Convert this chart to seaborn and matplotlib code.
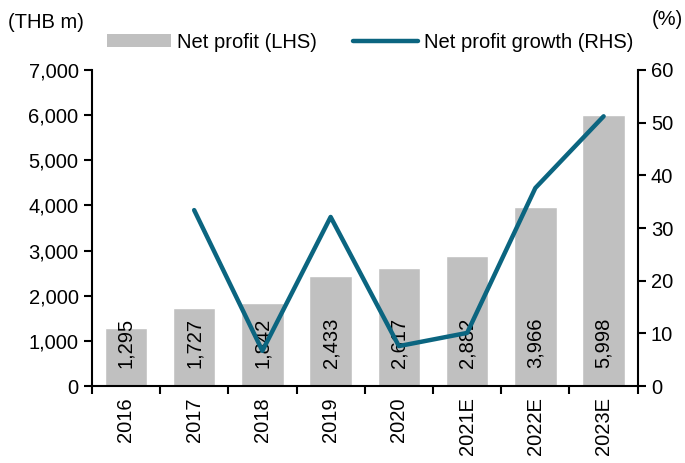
import numpy as np
import pandas as pd
import seaborn as sns
import matplotlib.pyplot as plt
from matplotlib.patches import Patch
from matplotlib.lines import Line2D
from matplotlib.ticker import FuncFormatter, FixedLocator

years = ['2016', '2017', '2018', '2019', '2020', '2021E', '2022E', '2023E']
net_profit = [1295, 1727, 1842, 2433, 2617, 2882, 3966, 5998]
growth = [np.nan, 33.4, 6.7, 32.1, 7.6, 10.1, 37.6, 51.2]

bar_color = '#C0C0C0'
line_color = '#0B6580'
fs = 14.5

sns.set_style('white')
plt.rcParams['font.family'] = ['Liberation Sans', 'DejaVu Sans']
plt.rcParams['font.size'] = fs
plt.rcParams['text.color'] = 'black'
plt.rcParams['xtick.color'] = 'black'
plt.rcParams['ytick.color'] = 'black'

df = pd.DataFrame({'year': years, 'profit': net_profit, 'growth': growth})
df['pos'] = np.arange(len(df))

fig = plt.figure(figsize=(6.85, 4.63), dpi=100)
ax = fig.add_axes([0.134, 0.166, 0.797, 0.683])

sns.barplot(ax=ax, data=df, x='year', y='profit', color=bar_color,
            width=0.62, saturation=1)
ax.set_xlim(-0.5, len(years) - 0.5)
ax.set_ylim(0, 7000)
ax.set_yticks(range(0, 7001, 1000))
ax.yaxis.set_major_formatter(FuncFormatter(lambda v, p: f'{int(v):,}'))
ax.set_xlabel('')
ax.set_ylabel('')
ax.tick_params(axis='x', length=0, rotation=90, pad=8, labelsize=fs)
ax.xaxis.set_minor_locator(FixedLocator(np.arange(-0.5, len(years), 1)))
ax.tick_params(axis='x', which='minor', length=6, width=1.5, color='black', direction='out', bottom=True)
ax.tick_params(axis='y', length=6, width=1.5, color='black', direction='out', left=True, labelsize=fs)
for s in ['left', 'bottom']:
    ax.spines[s].set_color('black')
    ax.spines[s].set_linewidth(1.5)
ax.spines['top'].set_visible(False)
ax.spines['right'].set_visible(False)

for i, v in enumerate(net_profit):
    ax.text(i, 400, f'{v:,}', rotation=90, ha='center', va='bottom', fontsize=fs, color='black')

ax2 = ax.twinx()
sns.lineplot(ax=ax2, data=df, x='pos', y='growth', color=line_color,
             linewidth=3.2, sort=False)
ax2.set_ylim(0, 60)
ax2.set_yticks(range(0, 61, 10))
ax2.set_ylabel('')
ax2.set_xlim(-0.5, len(years) - 0.5)
ax2.tick_params(axis='y', length=6, width=1.5, color='black', direction='out', right=True, labelsize=fs)
ax2.spines['right'].set_color('black')
ax2.spines['right'].set_linewidth(1.5)
for s in ['top', 'left', 'bottom']:
    ax2.spines[s].set_visible(False)

fig.text(0.012, 0.952, '(THB m)', ha='left', va='center', fontsize=fs)
fig.text(0.997, 0.957, '(%)', ha='right', va='center', fontsize=fs)

handles = [Patch(facecolor=bar_color, edgecolor='none'),
           Line2D([0], [0], color=line_color, linewidth=3.2)]
fig.legend(handles, ['Net profit (LHS)', 'Net profit growth (RHS)'],
           loc='center', bbox_to_anchor=(0.54, 0.909), ncol=2, frameon=False,
           handlelength=3.2, handleheight=0.6, handletextpad=0.3,
           columnspacing=1.8, fontsize=fs)

fig.savefig('out.png', dpi=100)
